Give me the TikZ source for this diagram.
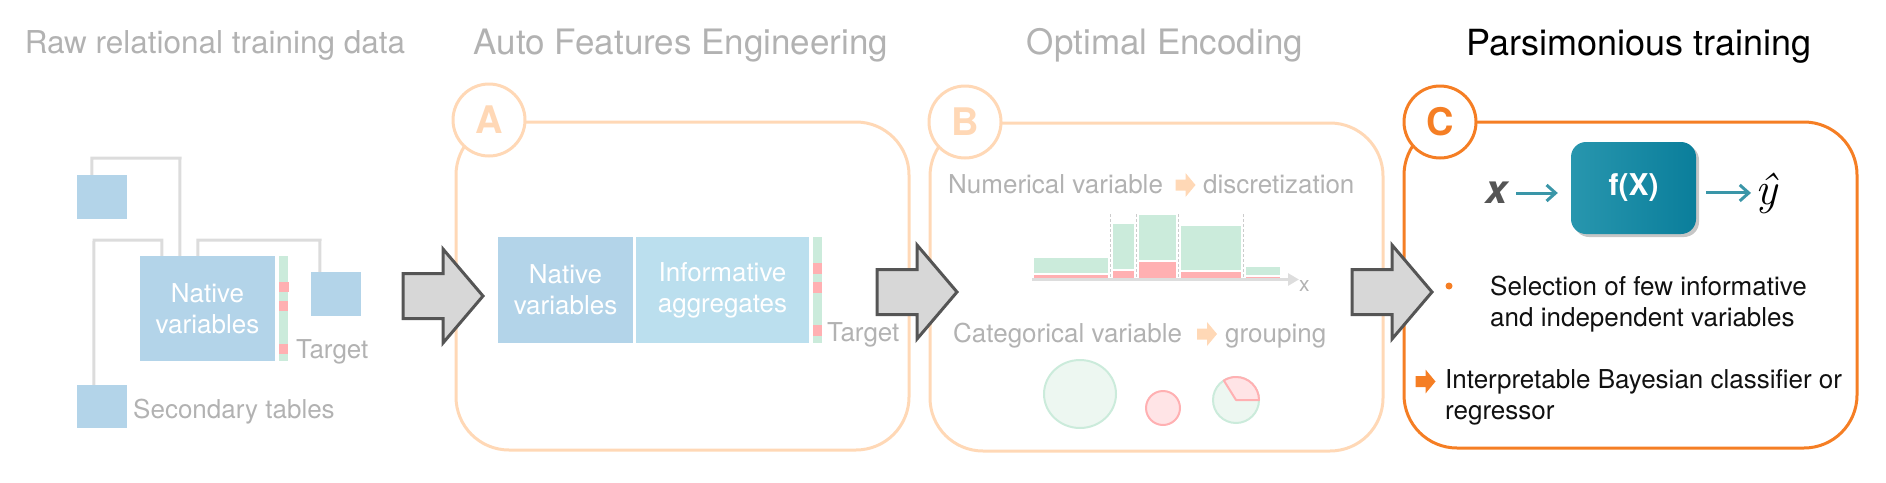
\documentclass[tikz,border=0pt]{standalone}
\usepackage{fontspec}
\setmainfont{TeX Gyre Heros}
\newfontfamily\lmrom{Latin Modern Roman}
\usetikzlibrary{arrows.meta,shadows,calc}
\definecolor{txtgray}{RGB}{178,178,178}
\definecolor{boxblue}{RGB}{179,212,233}
\definecolor{infoblue}{RGB}{187,223,238}
\definecolor{tgreen}{RGB}{203,235,219}
\definecolor{tpink}{RGB}{255,176,178}
\definecolor{linegray}{RGB}{220,220,220}
\definecolor{peach}{RGB}{255,216,182}
\definecolor{corange}{RGB}{245,126,36}
\definecolor{arrfill}{RGB}{215,215,215}
\definecolor{arrdraw}{RGB}{85,85,85}
\definecolor{tealline}{RGB}{58,150,168}
\definecolor{fboxA}{RGB}{40,150,174}
\definecolor{fboxM}{RGB}{12,148,180}
\definecolor{fboxB}{RGB}{10,126,155}
\definecolor{xgray}{RGB}{85,85,85}
\definecolor{pgreen}{RGB}{237,247,241}
\definecolor{ppink}{RGB}{255,228,230}
\definecolor{axisgray}{RGB}{221,221,221}
\definecolor{dashgray}{RGB}{204,204,204}
\definecolor{ctext}{RGB}{17,17,17}
\begin{document}
\begin{tikzpicture}[x=1pt,y=-1pt,
  title/.style={font=\fontsize{35}{40}\selectfont, text=txtgray, anchor=base, inner sep=0pt},
  lbl/.style={font=\fontsize{26}{31}\selectfont, text=txtgray, anchor=base west, inner sep=0pt},
  clbl/.style={font=\fontsize{26}{31}\selectfont, text=ctext, anchor=base west, inner sep=0pt, align=left},
  tbl/.style={fill=boxblue, draw=none, inner sep=0pt, text=white, align=center, font=\fontsize{26}{31}\selectfont},
  tbar/.style={fill=tgreen, draw=none, inner sep=0pt, minimum width=9pt},
  conn/.style={draw=linegray, line width=3pt},
  panel/.style={rounded corners=53pt, line width=3pt, inner sep=0pt, minimum width=453pt},
  badge/.style={circle, fill=white, line width=3pt, minimum size=72pt, inner sep=0pt, font=\bfseries\fontsize{38}{40}\selectfont},
  tealarr/.style={draw=tealline, line width=3pt, -{Straight Barb[length=9pt,width=16pt,line width=3pt]}},
  bigarrow/.pic={\draw[fill=arrfill, draw=arrdraw, line width=3pt, line join=miter]
     (0,-22.5) -- (40,-22.5) -- (40,-47) -- (80,0) -- (40,47) -- (40,22.5) -- (0,22.5) -- cycle;},
  iconarrow/.pic={\path[pic actions] (-10,-5.5) -- (0,-5.5) -- (0,-12) -- (10,0) -- (0,12) -- (0,5.5) -- (-10,5.5) -- cycle;}
]
\useasboundingbox (0,0) rectangle (1886,482);

% ---------- Raw relational training data ----------
\node[title, font=\fontsize{31.5}{36}\selectfont] (t0) at (215,53) {Raw relational training data};
\node[tbl, minimum width=50pt, minimum height=44pt] (s1) at (102,197) {};
\node[tbl, minimum width=135pt, minimum height=105pt] (nat) at (207.5,308.5) {Native\\variables};
\node[tbl, minimum width=50pt, minimum height=44pt] (s2) at (336,294) {};
\node[tbl, minimum width=50pt, minimum height=43pt] (s3) at (102,406.5) {};
\node[tbar, minimum height=105pt] (tg0) at (283.5,308.5) {};
\fill[tpink] (279,282) rectangle (289,292);
\fill[tpink] (279,301) rectangle (288,311);
\fill[tpink] (279,344) rectangle (288,354);
\node[lbl] (tl0) at (296,358) {Target};
\node[lbl] (sl) at (133,418) {Secondary tables};
\draw[conn] ($(s1.north west)+(15,0)$) |- (180,158) -- ($(nat.north west)+(40,0)$);
\draw[conn] ($(nat.north west)+(22,0)$) |- (94,240) -- ($(s3.north west)+(17,0)$);
\draw[conn] ($(nat.north west)+(58,0)$) |- (320,240) -- ($(s2.north west)+(9,0)$);

% ---------- Panel A ----------
\node[title] (t1) at (681,54) {Auto Features Engineering};
\node[panel, draw=peach, minimum height=328pt] (pA) at (682.5,286) {};
\node[badge, draw=peach, text=peach] (bA) at (489,120) {A};
\node[tbl, minimum width=135pt, minimum height=106pt] (natA) at (565.5,290) {Native\\variables};
\node[tbl, fill=infoblue, minimum width=173pt, minimum height=106pt] (agg) at (722.5,290) {Informative\\aggregates};
\node[tbar, minimum height=106pt] (tg1) at (817.5,290) {};
\fill[tpink] (813,263) rectangle (822,274);
\fill[tpink] (813,282) rectangle (822,293);
\fill[tpink] (813,325) rectangle (822,336);
\node[lbl] (tl1) at (827,341) {Target};

% ---------- Panel B ----------
\node[title] (t2) at (1165,54) {Optimal Encoding};
\node[panel, draw=peach, minimum height=328pt] (pB) at (1156.5,287) {};
\node[badge, draw=peach, text=peach] (bB) at (965,122) {B};
\node[lbl] (nv) at (948,193) {Numerical variable};
\pic[fill=peach] at (1185.5,185) {iconarrow};
\node[lbl] (dz) at (1203,193) {discretization};
% histogram
\fill[tgreen] (1034,258) rectangle (1108,273);  \fill[tpink] (1034,275) rectangle (1108,277.5);
\fill[tgreen] (1113,224) rectangle (1134,269);  \fill[tpink] (1113,271) rectangle (1134,278);
\fill[tgreen] (1139,215) rectangle (1176,260);  \fill[tpink] (1139,262) rectangle (1176,278);
\fill[tgreen] (1181,226) rectangle (1241,270);  \fill[tpink] (1181,272) rectangle (1241,278);
\fill[tgreen] (1246,267) rectangle (1280,275);  \fill[tpink] (1246,277) rectangle (1280,278.5);
\foreach \xx in {1110.5,1136.5,1178.5,1243.5}
  \draw[dashgray, line width=1pt, dash pattern=on 3pt off 2pt] (\xx,214) -- (\xx,279);
\node[lbl, font=\fontsize{21}{24}\selectfont] (xl) at (1299,291) {x};
\coordinate (ax0) at (1032,279.5);
\draw[axisgray, line width=3pt, -{Triangle[length=11pt,width=12pt]}] (ax0) -- (ax0 -| xl.west);
\node[lbl] (cv) at (953,342) {Categorical variable};
\pic[fill=peach] at (1207,334) {iconarrow};
\node[lbl] (gr) at (1225,342) {grouping};
\draw[tgreen, fill=pgreen, line width=2pt] (1080,394) ellipse[x radius=36, y radius=34];
\draw[tpink, fill=ppink, line width=2pt] (1163,408) circle[radius=17];
\draw[tgreen, fill=pgreen, line width=2pt] (1236,400) circle[radius=23];
\draw[tpink, fill=ppink, line width=2pt, line join=round] (1236,400) -- ++(23,0) arc[start angle=0, end angle=-122, radius=23] -- cycle;

% ---------- Panel C ----------
\node[title, text=black, font=\fontsize{36}{40}\selectfont] (t3) at (1639,55) {Parsimonious training};
\node[panel, draw=corange, minimum height=326pt] (pC) at (1630.5,285) {};
\node[badge, draw=corange, text=corange] (bC) at (1440,122) {C};
\node[inner sep=0pt, text=xgray, font=\bfseries\itshape\fontsize{40}{44}\selectfont] (xin) at (1497,193) {x};
\node[rounded corners=15pt, left color=fboxA, middle color=fboxM, right color=fboxB, minimum width=125pt, minimum height=92pt,
      inner sep=0pt, text=white, font=\bfseries\fontsize{30}{34}\selectfont,
      drop shadow={shadow xshift=3pt, shadow yshift=-3pt, opacity=0.45}] (fx) at (1633.5,188) {f(X)};
\node[anchor=base west, inner sep=0pt, font=\lmrom\itshape\fontsize{46}{50}\selectfont] (yh) at (1755,204) {ŷ};
\draw[tealarr, shorten <=8pt, shorten >=13pt] (xin.east) -- (xin.east -| fx.west);
\draw[tealarr, shorten <=10pt, shorten >=4pt] (fx.east |- yh.west) -- (yh.west);
\fill[corange] (1449,286) circle[radius=3.5];
\node[clbl] (sel) at (1490,326) {Selection of few informative\\and independent variables};
\pic[fill=corange] at (1425.5,381.5) {iconarrow};
\node[clbl] (ibc) at (1445,419) {Interpretable Bayesian classifier or\\regressor};

% ---------- big arrows ----------
\pic at (403,296) {bigarrow};
\pic at (877,292) {bigarrow};
\pic at (1352,292) {bigarrow};
\end{tikzpicture}
\end{document}
